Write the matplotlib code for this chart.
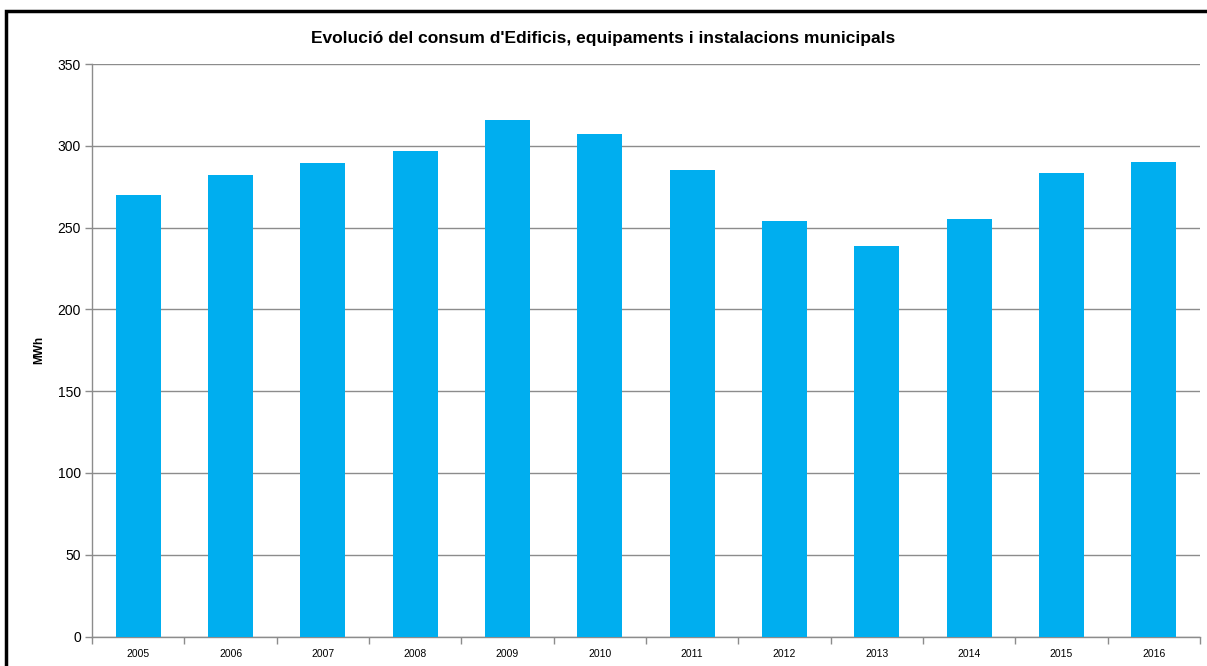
import numpy as np
import matplotlib.pyplot as plt
from matplotlib.patches import Rectangle

# Data
years = ['2005', '2006', '2007', '2008', '2009', '2010',
         '2011', '2012', '2013', '2014', '2015', '2016']
consum = [270, 282, 289.5, 297, 316, 307, 285, 254, 239, 255.5, 283.5, 290]

title = "Evolució del consum d'Edificis, equipaments i instalacions municipals"
ylabel = 'MWh'

bar_color = '#00AEEF'
grid_color = '#8C8C8C'

plt.rcParams['font.family'] = ['Liberation Sans', 'DejaVu Sans']

fig = plt.figure(figsize=(12.07, 6.66), dpi=100)
ax = fig.add_axes([92 / 1207, 29.5 / 666, 1108 / 1207, 572.5 / 666])

x = np.arange(len(years))
ax.bar(x, consum, width=0.49, color=bar_color, zorder=3)

ax.set_xlim(-0.5, len(years) - 0.5)
ax.set_ylim(0, 350)
ax.set_yticks(np.arange(0, 351, 50))
ax.yaxis.grid(True, color=grid_color, linewidth=1, zorder=0)

# category labels centred, ticks at the boundaries
ax.set_xticks(x)
ax.set_xticklabels(years, fontsize=7.5)
ax.set_xticks(np.arange(-0.5, len(years), 1), minor=True)
ax.tick_params(axis='x', which='major', length=0, pad=9)
ax.tick_params(axis='x', which='minor', length=5, color=grid_color, width=1)
ax.tick_params(axis='y', length=5, color=grid_color, width=1, labelsize=10, pad=3)

for side in ['top', 'right']:
    ax.spines[side].set_visible(False)
for side in ['left', 'bottom']:
    ax.spines[side].set_color(grid_color)
    ax.spines[side].set_linewidth(1)

ax.set_ylabel(ylabel, fontsize=8.5, fontweight='bold')
ax.yaxis.set_label_coords(-0.042, 0.5)
fig.text(0.5, 1 - 38 / 666, title, ha='center', va='center',
         fontsize=12.5, fontweight='bold')

# black frame around the chart (runs off the right and bottom edges)
frame = Rectangle((6 / 1207, -0.2), 1.3, 0.2 + (666 - 11) / 666,
                  transform=fig.transFigure, fill=False, edgecolor='black',
                  linewidth=2.5, clip_on=False)
fig.patches.append(frame)

fig.savefig('out.png', dpi=100)
